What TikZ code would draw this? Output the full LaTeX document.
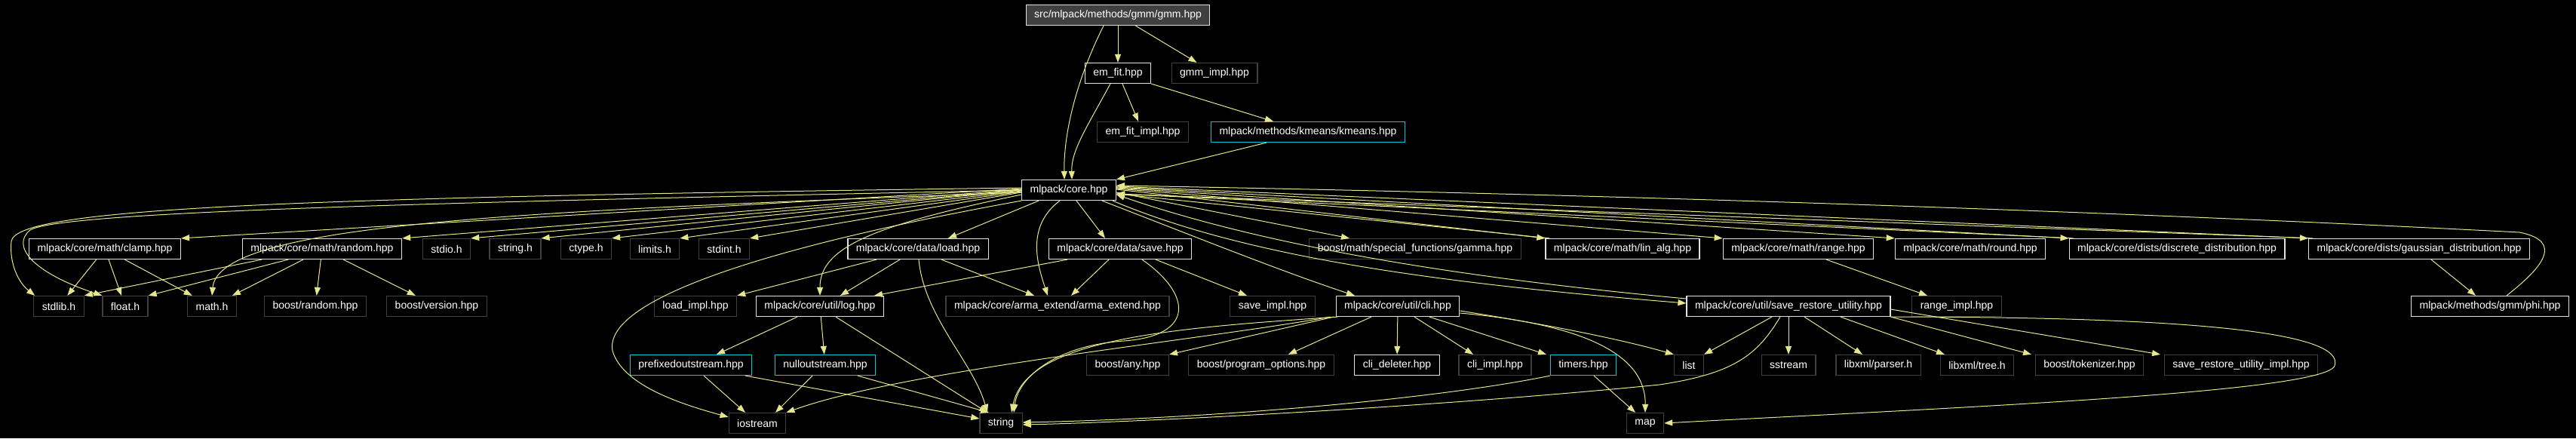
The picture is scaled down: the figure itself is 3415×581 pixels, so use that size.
\documentclass[tikz,border=0pt]{standalone}
\usepackage{fontspec}
\setmainfont{Liberation Sans}
\usepackage{tikz}
\usetikzlibrary{arrows.meta,positioning}

\definecolor{edgecol}{RGB}{230,230,140}
\definecolor{extline}{RGB}{64,64,64}
\definecolor{docline}{RGB}{225,225,225}
\definecolor{cyanline}{RGB}{0,200,210}
\definecolor{rootfill}{RGB}{64,64,64}

\begin{document}
\begin{tikzpicture}[x=1pt, y=-1pt,
    hfile/.style={draw, rectangle, line width=1.2pt, text=white, minimum height=27pt,
        inner xsep=11pt, inner ysep=0pt, font=\fontsize{14}{16}\selectfont},
    docfile/.style={hfile, draw=docline},
    extfile/.style={hfile, draw=extline},
    newfile/.style={hfile, draw=cyanline},
    rootfile/.style={hfile, draw=docline, fill=rootfill},
    incl/.style={draw=edgecol, line width=1pt, -{Triangle[length=11pt,width=8pt]}},
]
    \useasboundingbox (0,0) rectangle (3415,581);
    \fill[black] (0,0) rectangle (3415,581);

    % Top
    \node[rootfile] (gmm) at (1482,20) {src/mlpack/methods/gmm/gmm.hpp};
    \node[docfile] (emfit) at (1482,97) {em\_fit.hpp};
    \node[extfile] (gmmimpl) at (1610,97) {gmm\_impl.hpp};
    \node[extfile] (emfitimpl) at (1515,175) {em\_fit\_impl.hpp};
    \node[newfile] (kmeans) at (1734,175) {mlpack/methods/kmeans/kmeans.hpp};
    \node[docfile] (core) at (1417,252) {mlpack/core.hpp};

    % Row 3
    \node[docfile] (clamp) at (139,330) {mlpack/core/math/clamp.hpp};
    \node[docfile] (random) at (427,330) {mlpack/core/math/random.hpp};
    \node[extfile] (stdio) at (592,330) {stdio.h};
    \node[extfile] (stringh) at (683,330) {string.h};
    \node[extfile] (ctype) at (777,330) {ctype.h};
    \node[extfile] (limits) at (868,330) {limits.h};
    \node[extfile] (stdint) at (960,330) {stdint.h};
    \node[docfile] (load) at (1217,330) {mlpack/core/data/load.hpp};
    \node[docfile] (save) at (1485,330) {mlpack/core/data/save.hpp};
    \node[extfile] (gamma) at (1876,330) {boost/math/special\_functions/gamma.hpp};
    \node[docfile] (linalg) at (2151,330) {mlpack/core/math/lin\_alg.hpp};
    \node[docfile] (range) at (2384,330) {mlpack/core/math/range.hpp};
    \node[docfile] (round) at (2612,330) {mlpack/core/math/round.hpp};
    \node[docfile] (discrete) at (2886,330) {mlpack/core/dists/discrete\_distribution.hpp};
    \node[docfile] (gaussian) at (3207,330) {mlpack/core/dists/gaussian\_distribution.hpp};

    % Row 4
    \node[extfile] (stdlib) at (78,406) {stdlib.h};
    \node[extfile] (floath) at (166,406) {float.h};
    \node[extfile] (math) at (281,406) {math.h};
    \node[extfile] (boostrandom) at (418,406) {boost/random.hpp};
    \node[extfile] (boostversion) at (579,406) {boost/version.hpp};
    \node[extfile] (loadimpl) at (922,406) {load\_impl.hpp};
    \node[docfile] (log) at (1087,406) {mlpack/core/util/log.hpp};
    \node[extfile] (arma) at (1402,406) {mlpack/core/arma\_extend/arma\_extend.hpp};
    \node[extfile] (saveimpl) at (1687,406) {save\_impl.hpp};
    \node[docfile] (cli) at (1853,406) {mlpack/core/util/cli.hpp};
    \node[docfile] (saverestore) at (2371,406) {mlpack/core/util/save\_restore\_utility.hpp};
    \node[extfile] (rangeimpl) at (2594,406) {range\_impl.hpp};
    \node[docfile] (phi) at (3301,406) {mlpack/methods/gmm/phi.hpp};

    % Row 5
    \node[newfile] (prefixed) at (916,484) {prefixedoutstream.hpp};
    \node[newfile] (nullout) at (1094,484) {nulloutstream.hpp};
    \node[extfile] (boostany) at (1495,484) {boost/any.hpp};
    \node[extfile] (progopts) at (1672,484) {boost/program\_options.hpp};
    \node[docfile] (clideleter) at (1852,484) {cli\_deleter.hpp};
    \node[extfile] (cliimpl) at (1982,484) {cli\_impl.hpp};
    \node[newfile] (timers) at (2099,484) {timers.hpp};
    \node[extfile] (list) at (2239,484) {list};
    \node[extfile] (sstream) at (2371,484) {sstream};
    \node[extfile] (xmlparser) at (2490,484) {libxml/parser.h};
    \node[extfile] (xmltree) at (2621,484) {libxml/tree.h};
    \node[extfile] (tokenizer) at (2770,484) {boost/tokenizer.hpp};
    \node[extfile] (srimpl) at (2971,484) {save\_restore\_utility\_impl.hpp};

    % Row 6
    \node[extfile] (iostream) at (1004,561) {iostream};
    \node[extfile] (string) at (1327,561) {string};
    \node[extfile] (map) at (2181,561) {map};

    % Edges from the top files
    \draw[incl] (gmm) -- (emfit);
    \draw[incl] (gmm) -- (gmmimpl);
    \draw[incl] ([xshift=-19pt]gmm.south) .. controls (1425,110) and (1410,180) .. ([xshift=-6pt]core.north);
    \draw[incl] ([xshift=-10pt]emfit.south) .. controls (1440,170) and (1420,200) .. ([xshift=4pt]core.north);
    \draw[incl] (emfit) -- (emfitimpl);
    \draw[incl] (emfit.south east) -- ([xshift=-46pt]kmeans.north);
    \draw[incl] ([xshift=-55pt]kmeans.south) -- (core.north east);

    % core.hpp, left side
    \draw[incl] ([yshift=3pt]core.west) .. controls (400,262) and (20,275) .. (15,320) .. controls (12,350) and (25,375) .. ([xshift=2pt]stdlib.north west);
    \draw[incl] (core.west) .. controls (600,268) and (80,280) .. (40,305) .. controls (15,325) and (40,360) .. (floath.north west);
    \draw[incl] ([yshift=-3pt]core.west) .. controls (700,280) and (290,295) .. (math.north);
    \draw[incl] ([yshift=2pt]core.west) -- (clamp.north east);
    \draw[incl] ([yshift=1pt]core.west) -- (random.north east);
    \draw[incl] (core.west) -- (stdio.north east);
    \draw[incl] (core.west) -- (stringh.north east);
    \draw[incl] ([yshift=-1pt]core.west) -- (ctype.north east);
    \draw[incl] ([yshift=-2pt]core.west) -- (limits.north east);
    \draw[incl] ([yshift=-3pt]core.west) -- (stdint.north east);
    \draw[incl] ([yshift=-6pt]core.west) .. controls (1150,300) and (1087,330) .. (log.north);
    \draw[incl] (core.south west) .. controls (1000,330) and (800,400) .. (812,465) .. controls (825,510) and (900,535) .. ([yshift=-6pt]iostream.north west);
    \draw[incl] ([xshift=-40pt]core.south) -- ([xshift=40pt]load.north);
    \draw[incl] ([xshift=-12pt]core.south) .. controls (1360,300) and (1375,350) .. ([xshift=-13pt]arma.north);
    \draw[incl] ([xshift=10pt]core.south) -- ([xshift=-20pt]save.north);

    % core.hpp, right side
    \draw[incl] ([xshift=44pt]core.south) .. controls (1600,320) and (1700,360) .. ([xshift=-57pt]cli.north);
    \draw[incl] ([xshift=-5pt]core.south east) .. controls (1650,340) and (1900,375) .. ([yshift=4pt]saverestore.west);
    \draw[incl] ([yshift=10pt]saverestore.west) .. controls (1900,365) and (1660,320) .. ([yshift=-6pt]core.east);
    \draw[incl] ([yshift=-3pt]core.east) -- ([xshift=-87pt]gamma.north);
    \draw[incl] ([yshift=1pt]core.east) -- (linalg.north west);
    \draw[incl] ([xshift=6pt]linalg.north west) -- ([yshift=-5pt]core.east);
    \draw[incl] ([yshift=2pt]core.east) -- (range.north west);
    \draw[incl] ([yshift=3pt]core.east) -- (round.north west);
    \draw[incl] ([yshift=4pt]core.east) -- (discrete.north west);
    \draw[incl] ([xshift=6pt]discrete.north west) -- ([yshift=-5pt]core.east);
    \draw[incl] ([yshift=5pt]core.east) -- (gaussian.north west);
    \draw[incl] ([xshift=6pt]gaussian.north west) -- ([yshift=-5pt]core.east);
    \draw[incl] ([xshift=22pt]phi.north) .. controls (3370,355) and (3400,320) .. (3340,308) .. controls (2700,275) and (2000,255) .. ([yshift=6pt]core.east);

    % Row 3 to row 4
    \draw[incl] (clamp) -- (stdlib);
    \draw[incl] (clamp) -- (floath);
    \draw[incl] (clamp) -- (math);
    \draw[incl] ([xshift=-80pt]random.south) -- (stdlib.north east);
    \draw[incl] ([xshift=-45pt]random.south) -- (floath.north east);
    \draw[incl] ([xshift=-25pt]random.south) -- ([xshift=27pt]math.north);
    \draw[incl] (random) -- (boostrandom);
    \draw[incl] (random) -- (boostversion);
    \draw[incl] ([xshift=-55pt]load.south) -- (loadimpl.north east);
    \draw[incl] ([xshift=-24pt]load.south) -- ([xshift=27pt]log.north);
    \draw[incl] ([xshift=31pt]load.south) -- ([xshift=-31pt]arma.north);
    \draw[incl] ([xshift=1pt]load.south) .. controls (1225,420) and (1290,480) .. ([xshift=-18pt]string.north);
    \draw[incl] ([xshift=-70pt]save.south) -- ([xshift=72pt]log.north);
    \draw[incl] ([xshift=-15pt]save.south) -- ([xshift=18pt]arma.north);
    \draw[incl] ([xshift=47pt]save.south) -- ([xshift=-34pt]saveimpl.north);
    \draw[incl] ([xshift=29pt]save.south) .. controls (1580,390) and (1585,445) .. (1490,452) .. controls (1400,458) and (1350,500) .. ([xshift=17pt]string.north);
    \draw[incl] ([xshift=37pt]range.south) -- ([xshift=-39pt]rangeimpl.north);
    \draw[incl] ([xshift=16pt]gaussian.south) -- ([xshift=-19pt]phi.north);

    % Row 4 down
    \draw[incl] ([xshift=-30pt]log.south) -- ([xshift=34pt]prefixed.north);
    \draw[incl] (log) -- (nullout);
    \draw[incl] ([xshift=21pt]log.south) -- ([xshift=-18pt]string.north);
    \draw[incl] ([xshift=17pt]prefixed.south) -- ([xshift=-16pt]iostream.north);
    \draw[incl] ([xshift=72pt]prefixed.south) -- ([yshift=6pt]string.west);
    \draw[incl] ([xshift=-17pt]nullout.south) -- ([xshift=24pt]iostream.north);
    \draw[incl] ([xshift=43pt]nullout.south) -- ([xshift=-16pt]string.north);
    \draw[incl] ([xshift=-90pt]cli.south) .. controls (1600,450) and (1200,490) .. (iostream.north east);
    \draw[incl] ([xshift=-80pt]cli.south) .. controls (1550,435) and (1360,450) .. ([xshift=14pt]string.north);
    \draw[incl] ([xshift=-85pt]cli.south) -- (boostany.north east);
    \draw[incl] ([xshift=-35pt]cli.south) -- ([xshift=36pt]progopts.north);
    \draw[incl] (cli) -- (clideleter);
    \draw[incl] ([xshift=22pt]cli.south) -- ([xshift=-29pt]cliimpl.north);
    \draw[incl] ([xshift=42pt]cli.south) -- ([xshift=-49pt]timers.north);
    \draw[incl] ([yshift=-6pt]cli.east) .. controls (2050,430) and (2150,450) .. (list.north west);
    \draw[incl] ([yshift=-9pt]cli.east) .. controls (2100,430) and (2182,470) .. (map.north);
    \draw[incl] ([xshift=14pt]timers.south) -- ([xshift=-13pt]map.north);
    \draw[incl] (timers.south west) .. controls (1900,530) and (1600,555) .. ([yshift=1pt]string.east);
    \draw[incl] ([xshift=-22pt]saverestore.south) -- (list.north east);
    \draw[incl] ([xshift=-11pt]saverestore.south) .. controls (2330,470) and (2300,495) .. (2200,510) .. controls (1900,540) and (1500,560) .. ([yshift=-2pt]string.east);
    \draw[incl] (saverestore) -- (sstream);
    \draw[incl] ([xshift=21pt]saverestore.south) -- ([xshift=-21pt]xmlparser.north);
    \draw[incl] ([xshift=69pt]saverestore.south) -- ([xshift=-43pt]xmltree.north);
    \draw[incl] (saverestore.south east) -- ([xshift=-77pt]tokenizer.north);
    \draw[incl] ([yshift=-4pt]saverestore.east) -- ([xshift=-107pt]srimpl.north);
    \draw[incl] (saverestore.south east) .. controls (2900,420) and (3110,440) .. (3095,485) .. controls (3080,520) and (2600,540) .. (map.east);
\end{tikzpicture}
\end{document}
